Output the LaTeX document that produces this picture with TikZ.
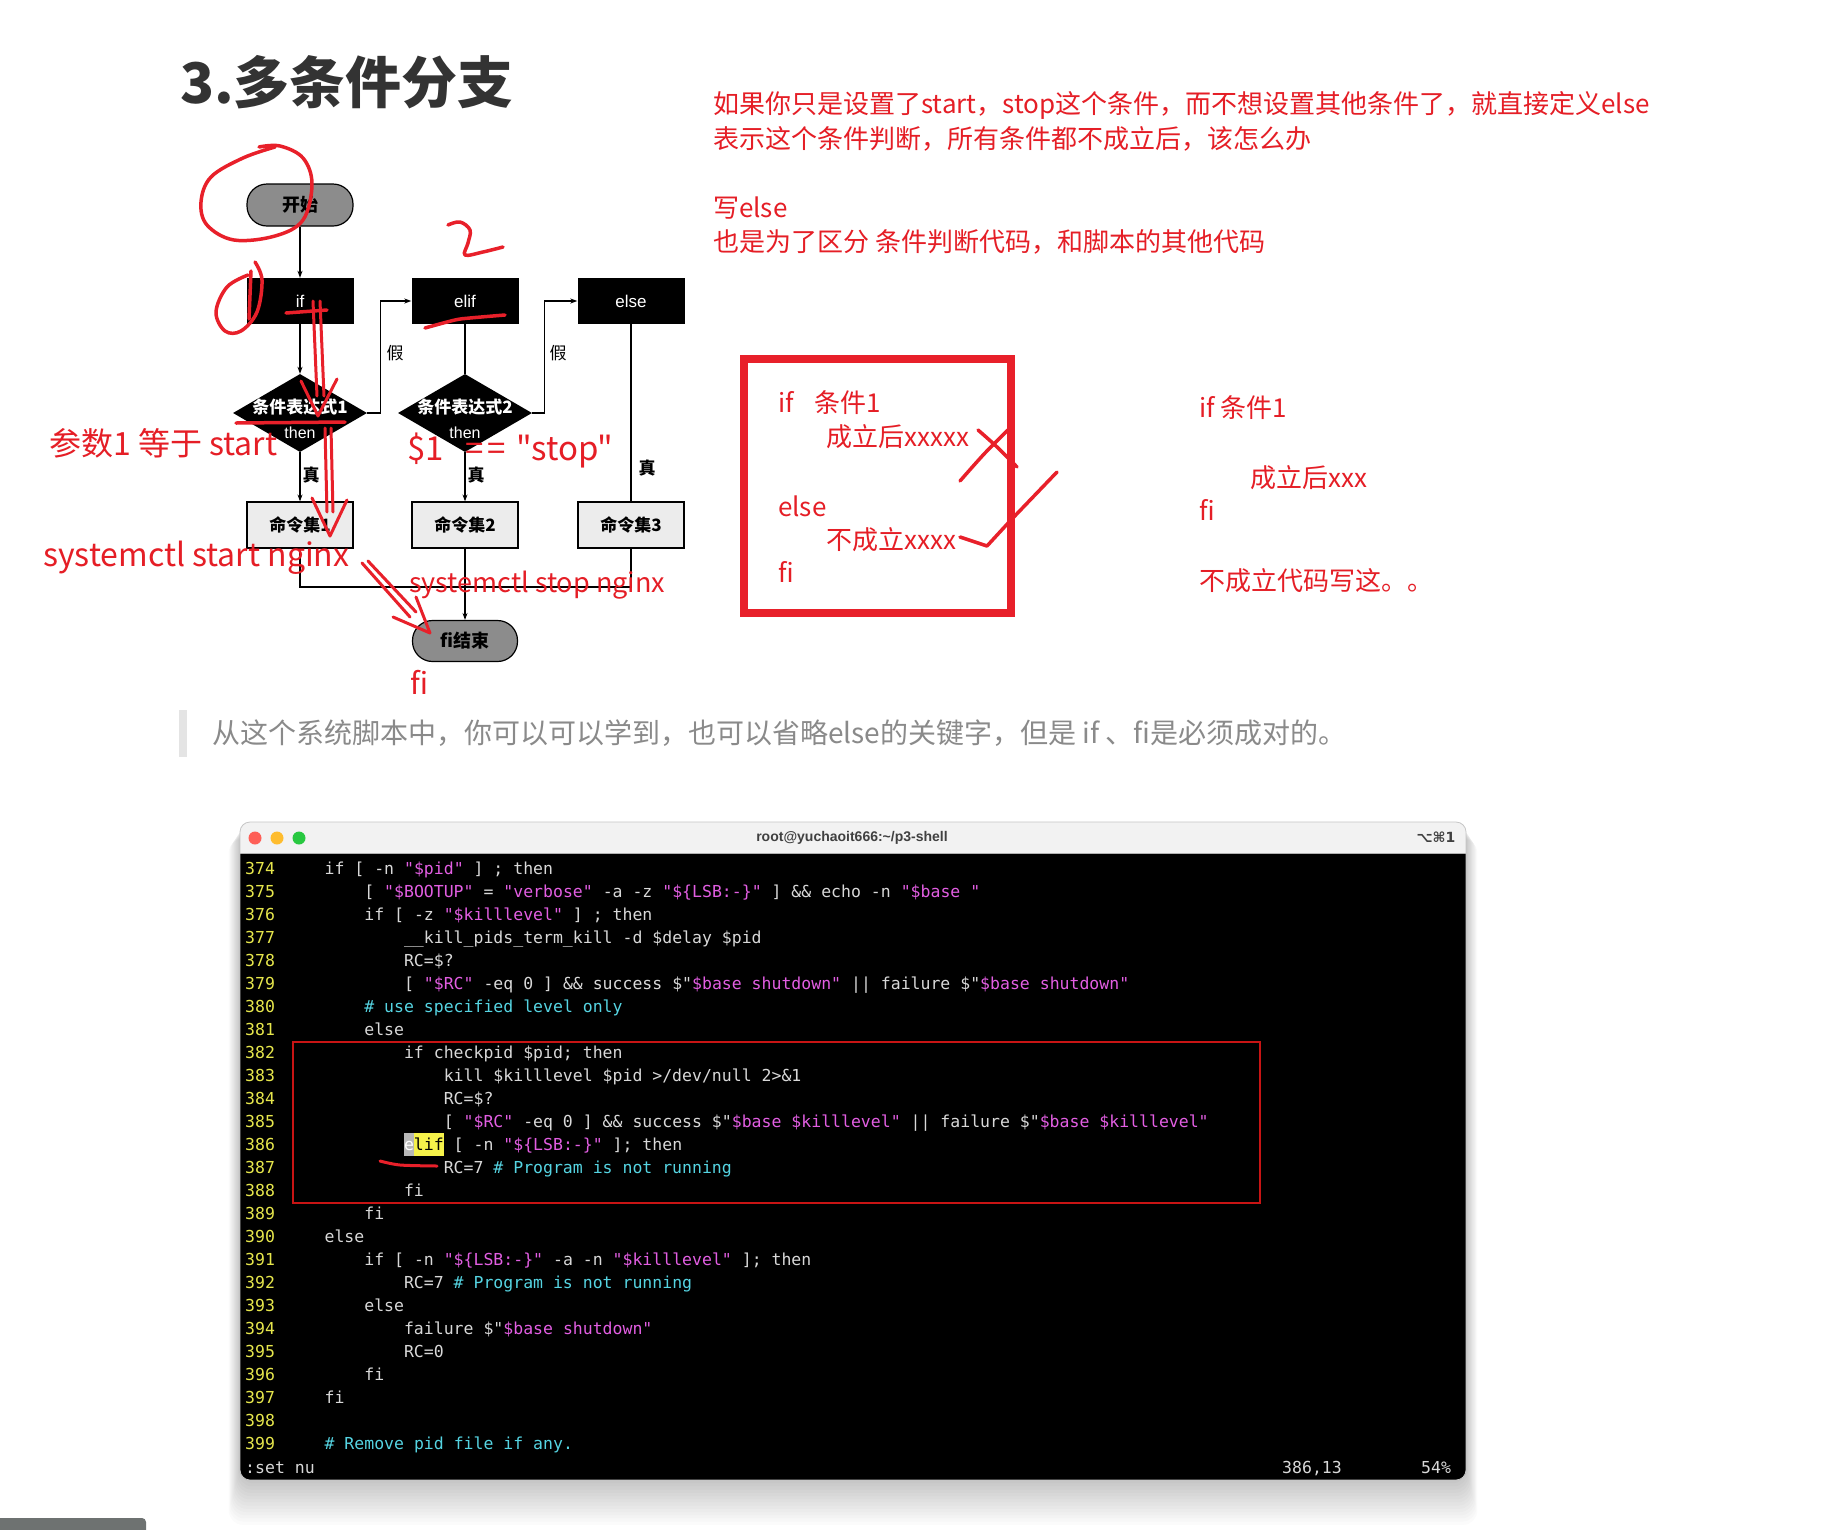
\documentclass[tikz,border=0pt]{standalone}
\usepackage{fontspec}
\usetikzlibrary{shapes.geometric,arrows.meta}
\newfontfamily\cjk{Noto Sans CJK SC}
\newfontfamily\mono{DejaVu Sans Mono}[WordSpace={1,0,0}]
\newfontfamily\sans{Liberation Sans}
\newfontfamily\dvs{DejaVu Sans}
\newcommand\fs[1]{\fontsize{#1}{#1}\selectfont}
\definecolor{titlegray}{HTML}{333333}
\definecolor{penred}{HTML}{E8202A}
\definecolor{txtred}{HTML}{E51E26}
\definecolor{quotegray}{HTML}{8A8A8A}
\definecolor{bargray}{HTML}{E4E4E4}
\definecolor{ovalgray}{HTML}{8C8C8C}
\definecolor{cmdgray}{HTML}{ECECEC}
\definecolor{codefg}{HTML}{D8D8D8}
\definecolor{codeyel}{HTML}{E6E64C}
\definecolor{codemag}{HTML}{E25EE2}
\definecolor{codecyan}{HTML}{55D4E2}
\definecolor{termred}{HTML}{C81414}
\definecolor{titlebg}{HTML}{F2F2F2}
\definecolor{tlred}{HTML}{FE5F57}
\definecolor{tlyel}{HTML}{FEBC2E}
\definecolor{tlgrn}{HTML}{28C840}
\definecolor{cursorgray}{HTML}{B8B8B8}
\definecolor{hlyel}{HTML}{F6F24A}
\definecolor{bottomgray}{HTML}{6E7271}
\newcommand\Mg[1]{\textcolor{codemag}{#1}}
\newcommand\Cy[1]{\textcolor{codecyan}{#1}}
\newcommand\codeln[4]{%
  \node[codenum] (n#1) at (245,{874+23*#2}) {#1};
  \node[codetxt] (t#1) at ({284.7+9.93*#3},{874+23*#2}) {#4};}
\tikzset{
  fline/.style={line width=1.1pt, draw=black},
  farr/.style={fline, -{Stealth[length=7pt,width=5pt]}},
  ovalbox/.style={draw, line width=1.2pt, fill=ovalgray, rounded corners=20pt, minimum width=106pt, minimum height=42pt, inner sep=0pt, font=\cjk\bfseries\fs{18}},
  blkbox/.style={fill=black, minimum width=107pt, minimum height=46pt, inner sep=0pt, text=white, font=\sans\fs{17}},
  diabox/.style={diamond, fill=black, minimum width=134pt, minimum height=78pt, inner sep=0pt},
  diatext/.style={text=white, inner sep=0pt},
  cmdbox/.style={draw, line width=1.2pt, fill=cmdgray, minimum width=106pt, minimum height=46pt, inner sep=0pt, font=\cjk\bfseries\fs{17}},
  flab/.style={inner sep=0pt, font=\cjk\fs{17}},
  redpen/.style={draw=penred, line width=3.5pt, line cap=round, line join=round},
  redtxt/.style={anchor=west, inner sep=0pt, text=txtred, font=\cjk\fs{26}},
  codenum/.style={anchor=base west, inner sep=0pt, text=codeyel, font=\mono\fs{16.5}},
  codetxt/.style={anchor=base west, inner sep=0pt, text=codefg, font=\mono\fs{16.5}},
}
\begin{document}
\begin{tikzpicture}[x=1pt,y=-1pt]
\useasboundingbox (0,0) rectangle (1831,1529);
\fill[white] (0,0) rectangle (1831,1529);

% ---------- title ----------
\node[anchor=west, inner sep=0pt, text=titlegray, font=\cjk\bfseries\fs{56}] (title) at (180,82) {3.多条件分支};

% ---------- flowchart ----------
\node[ovalbox] (start) at (300,205) {开始};
\node[blkbox] (if) at (300,301) {if};
\node[blkbox] (elif) at (465,301) {elif};
\node[blkbox] (else) at (631,301) {else};
\node[diabox] (d1) at (300,413) {};
\node[diabox] (d2) at (465,413) {};
\node[diatext, font=\cjk\bfseries\fs{17}] (d1a) at (300,407) {条件表达式1};
\node[diatext, font=\sans\fs{16}] (d1b) at (300,433) {then};
\node[diatext, font=\cjk\bfseries\fs{17}] (d2a) at (465,407) {条件表达式2};
\node[diatext, font=\sans\fs{16}] (d2b) at (465,433) {then};
\node[cmdbox] (c1) at (300,525) {命令集1};
\node[cmdbox] (c2) at (465,525) {命令集2};
\node[cmdbox] (c3) at (631,525) {命令集3};
\node[ovalbox, minimum width=105pt, minimum height=41pt] (end) at (465,641) {fi结束};
\coordinate (merge) at (465,587);

\draw[farr] (start) -- (if);
\draw[farr] (if) -- (d1);
\draw[fline] (elif) -- (d2);
\draw[farr] (d1.east) -- ++(13,0) |- (elif.west);
\draw[farr] (d2.east) -- ++(12,0) |- (else.west);
\draw[farr] (d1) -- (c1);
\draw[farr] (d2) -- (c2);
\draw[fline] (else) -- (c3);
\draw[fline] (c1.south) -- (c1.south |- merge) -- (c3.south |- merge) -- (c3.south);
\draw[farr] (c2) -- (end);

\node[flab] (f1) at (395,353) {假};
\node[flab] (f2) at (558,353) {假};
\node[flab, font=\cjk\bfseries\fs{17}] (t1) at (311,475) {真};
\node[flab, font=\cjk\bfseries\fs{17}] (t2) at (476,475) {真};
\node[flab, font=\cjk\bfseries\fs{17}] (t3) at (647,468) {真};

% ---------- red hand annotations on flowchart ----------
\draw[redpen] plot[smooth, tension=0.6] coordinates {(275,147) (243,158) (211,177) (201,202) (207,225) (234,240) (275,236) (303,220) (312,184) (303,158) (280,146) (259,147)};
\draw[redpen] plot[smooth, tension=0.6] coordinates {(248,275) (227,287) (216,312) (225,331) (241,331) (257,312) (262,280) (255,262)};
\draw[redpen] (251,271) -- (249,319);
\draw[redpen] plot[smooth, tension=0.6] coordinates {(448,225) (460,222) (470,230) (468,243) (465,255) (483,252) (503,247)};
\draw[redpen] plot[smooth, tension=0.5] coordinates {(425,328) (455,320) (470,318) (505,315)};
\draw[redpen] (286,313) -- (327,310);
\draw[redpen, line width=3pt] (313,301) -- (317,396);
\draw[redpen, line width=3pt] (320,301) -- (324,396);
\draw[redpen, line width=3pt] (301,381) -- (318,416) -- (337,379);
\draw[redpen] (236,423) -- (345,422);
\draw[redpen, line width=3pt] (325,428) -- (327,512);
\draw[redpen, line width=3pt] (331,428) -- (333,512);
\draw[redpen, line width=3pt] (312,498) -- (330,536) -- (347,500);
\draw[redpen, line width=3pt] (362,563) -- (410,617);
\draw[redpen, line width=3pt] (368,561) -- (416,612);
\draw[redpen, line width=3pt] (393,617) -- (430,633) -- (416,597);

\node[redtxt, font=\cjk\fs{32}] (a1) at (49,443) {参数1 等于 start};
\node[redtxt, font=\cjk\fs{33}] (a2) at (407,450) {\$1\hspace{22pt}=\kern3pt=\hspace{11pt}"stop"};
\node[redtxt, font=\cjk\fs{32}] (a3) at (43,558) {systemctl start nginx};
\node[redtxt, font=\cjk\fs{27}] (a4) at (409,585) {systemctl stop nginx};
\node[redtxt, font=\cjk\fs{30}] (a5) at (410,682) {fi};

% ---------- right notes ----------
\node[redtxt] (r1) at (713,105) {如果你只是设置了start，stop这个条件，而不想设置其他条件了，就直接定义else};
\node[redtxt] (r2) at (713,139) {表示这个条件判断，所有条件都不成立后，该怎么办};
\node[redtxt] (r3) at (713,208) {写else};
\node[redtxt] (r4) at (713,242) {也是为了区分 条件判断代码，和脚本的其他代码};

\draw[draw=penred, line width=8pt] (744,359) rectangle (1011,613);
\node[redtxt] (b1) at (778,403) {if\hspace{21pt}条件1};
\node[redtxt] (b2) at (826,437) {成立后xxxxx};
\node[redtxt] (b3) at (778,506) {else};
\node[redtxt] (b4) at (826,540) {不成立xxxx};
\node[redtxt] (b5) at (778,572) {fi};
\draw[redpen] plot[smooth] coordinates {(978,430) (996,446) (1017,467)};
\draw[redpen] plot[smooth] coordinates {(1010,428) (985,453) (960,481)};
\draw[redpen] (960,537) -- (987,546) -- (1010,521) -- (1057,472);

\node[redtxt] (s1) at (1199,408) {if 条件1};
\node[redtxt] (s2) at (1250,478) {成立后xxx};
\node[redtxt] (s3) at (1199,510) {fi};
\node[redtxt] (s4) at (1199,581) {不成立代码写这。。};

% ---------- quote ----------
\fill[bargray] (179,710) rectangle (187,757);
\node[anchor=west, inner sep=0pt, text=quotegray, font=\cjk\fs{28}] (quote) at (212,733) {从这个系统脚本中，你可以可以学到，也可以省略else的关键字，但是 if 、fi是必须成对的。};

% ---------- terminal ----------
\foreach \i in {1,...,14} {
  \fill[black, opacity=0.014, rounded corners=14pt] ({240-\i*0.8},{822+\i*1.2}) rectangle ({1466+\i*0.8},{1480+\i*3.2});
}
\begin{scope}
\path[clip, rounded corners=10pt] (240,822) rectangle (1466,1480);
\fill[titlebg] (240,822) rectangle (1466,854);
\fill[black] (240,854) rectangle (1466,1480);
\draw[gray!60, line width=1.2pt] (240,853.5) -- (1466,853.5);
\end{scope}
\draw[gray!45, line width=0.8pt, rounded corners=10pt] (240,822) rectangle (1466,1480);
\fill[tlred] (255,838) circle (6.5);
\fill[tlyel] (277,838) circle (6.5);
\fill[tlgrn] (299,838) circle (6.5);
\node[inner sep=0pt, text=black!75, font=\sans\bfseries\fs{14}] (wtitle) at (852,838) {root@yuchaoit666:\textasciitilde/p3-shell};
\node[inner sep=0pt, text=black!75, font=\dvs\bfseries\fs{14}] (wkey) at (1436,837) {⌥⌘1};

% highlight for elif
\fill[cursorgray] (403.9,1133) rectangle (413.8,1156);
\fill[hlyel] (413.8,1133) rectangle (443.6,1156);

\codeln{374}{0}{4}{if [ -n \Mg{"\$pid"} ] ; then}
\codeln{375}{1}{8}{[ \Mg{"\$BOOTUP"} = \Mg{"verbose"} -a -z \Mg{"\$\{LSB:-\}"} ] \&\& echo -n \Mg{"\$base "}}
\codeln{376}{2}{8}{if [ -z \Mg{"\$killlevel"} ] ; then}
\codeln{377}{3}{12}{\_\_kill\_pids\_term\_kill -d \$delay \$pid}
\codeln{378}{4}{12}{RC=\$?}
\codeln{379}{5}{12}{[ \Mg{"\$RC"} -eq 0 ] \&\& success \$"\Mg{\$base shutdown"} || failure \$"\Mg{\$base shutdown"}}
\codeln{380}{6}{8}{\Cy{\# use specified level only}}
\codeln{381}{7}{8}{else}
\codeln{382}{8}{12}{if checkpid \$pid; then}
\codeln{383}{9}{16}{kill \$killlevel \$pid >/dev/null 2>\&1}
\codeln{384}{10}{16}{RC=\$?}
\codeln{385}{11}{16}{[ \Mg{"\$RC"} -eq 0 ] \&\& success \$"\Mg{\$base \$killlevel"} || failure \$"\Mg{\$base \$killlevel"}}
\codeln{386}{12}{12}{\textcolor{white}{e}\textcolor{black}{lif} [ -n \Mg{"\$\{LSB:-\}"} ]; then}
\codeln{387}{13}{16}{RC=7 \Cy{\# Program is not running}}
\codeln{388}{14}{12}{fi}
\codeln{389}{15}{8}{fi}
\codeln{390}{16}{4}{else}
\codeln{391}{17}{8}{if [ -n \Mg{"\$\{LSB:-\}"} -a -n \Mg{"\$killlevel"} ]; then}
\codeln{392}{18}{12}{RC=7 \Cy{\# Program is not running}}
\codeln{393}{19}{8}{else}
\codeln{394}{20}{12}{failure \$"\Mg{\$base shutdown"}}
\codeln{395}{21}{12}{RC=0}
\codeln{396}{22}{8}{fi}
\codeln{397}{23}{4}{fi}
\node[codenum] (n398) at (245,{874+23*24}) {398};
\codeln{399}{25}{4}{\Cy{\# Remove pid file if any.}}
\node[codetxt] (st1) at (245,1473) {:set nu};
\node[codetxt] (st2) at (1282,1473) {386,13};
\node[codetxt] (st3) at (1421,1473) {54\%};

\draw[termred, line width=1.5pt] (293,1042) rectangle (1260,1203);
\draw[penred, line width=3pt, line cap=round] plot[smooth] coordinates {(380,1161) (400,1165) (437,1166)};

% ---------- bottom-left bar ----------
\fill[bottomgray, rounded corners=4pt] (-10,1518) rectangle (146,1540);
\end{tikzpicture}
\end{document}
